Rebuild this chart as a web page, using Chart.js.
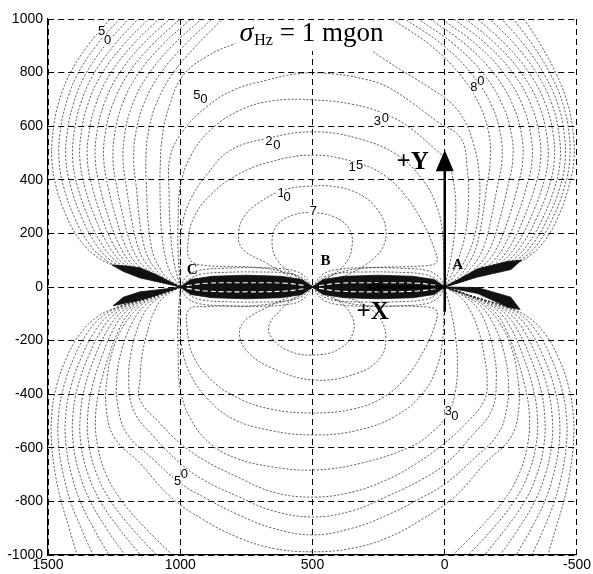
<!DOCTYPE html>
<html><head><meta charset="utf-8">
<script src="https://cdn.jsdelivr.net/npm/chart.js@4.4.0/dist/chart.umd.min.js"></script>
<style>html,body{margin:0;padding:0;background:#fff}</style>
</head><body>
<canvas id="c" width="593" height="574"></canvas>
<script>
// ---------- axis ticks ----------
const xTickValues = [1500, 1000, 500, 0, -500];
const yTickValues = [-1000, -800, -600, -400, -200, 0, 200, 400, 600, 800, 1000];

// ---------- contour lines: flat [x,y, x,y, ...] ----------
// upper half, central nested contours
const c7U  = [500,0, 571,45, 634,101, 653,169, 634,231, 571,269, 497,277, 419,262, 362,219, 350,157, 375,88, 444,32, 500,0];
const c10U = [500,0, 571,32, 672,88, 766,144, 779,206, 754,269, 697,318, 609,362, 497,377, 394,371, 306,337, 249,281, 223,219, 230,157, 268,107, 356,51, 500,0];
const c15U = [500,0, 570,45, 700,72, 900,80, 962,100, 970,170, 950,256, 886,343, 785,418, 659,467, 497,492, 344,467, 230,418, 141,331, 78,231, 40,144, 30,95, 66,80, 330,68, 440,38, 500,0];
const c20U = [1000,0, 1000,120, 994,225, 962,325, 899,420, 811,510, 659,557, 497,579, 331,555, 179,492, 78,393, 28,294, 9,206, 3,100, 0,0];
const c30U = [1000,0, 1008,120, 1008,250, 1000,374, 962,486, 886,586, 773,660, 648,695, 497,698, 340,680, 217,642, 129,592, 40,517, -10,467, -35,380, -42,280, -35,180, -20,90, 0,0];
const c50U = [1000,0, 1025,100, 1038,220, 1042,340, 1038,486, 987,586, 899,673, 798,735, 672,772, 545,797, 420,795, 300,775, 217,747, 129,691, 28,617, -61,555, -85,440, -90,325, -78,200, -50,100, -20,35, 0,0];
const c80U = [1000,0, 1040,60, 1060,130, 1072,220, 1076,325, 1076,440, 1068,560, 1040,680, 989,790, 900,860, 800,905, 680,935, 550,950, 420,945, 320,910, 230,850, 154,803, 53,741, -20,690, -75,620, -110,530, -128,440, -132,325, -115,200, -80,105, -40,45, 0,0];
// upper-left fan from C
const L1  = [1000,0, 1114,38, 1240,76, 1316,113, 1379,175, 1429,262, 1468,370, 1485,470, 1482,570, 1462,680, 1420,790, 1350,900, 1265,1000];
const L2  = [1000,0, 1110,36, 1225,72, 1295,110, 1352,172, 1400,260, 1440,370, 1458,470, 1455,570, 1433,680, 1390,790, 1318,900, 1230,1000];
const L3  = [1000,0, 1106,35, 1210,70, 1274,108, 1326,170, 1372,258, 1413,370, 1432,470, 1428,570, 1405,680, 1360,790, 1285,900, 1195,1000];
const L4  = [1000,0, 1102,34, 1195,68, 1254,106, 1302,168, 1346,256, 1387,370, 1406,470, 1402,570, 1378,680, 1330,790, 1252,900, 1160,1000];
const L5  = [1000,0, 1098,33, 1180,66, 1234,104, 1278,166, 1320,254, 1360,370, 1379,470, 1375,570, 1350,680, 1300,790, 1218,900, 1120,1000];
const L6  = [1000,0, 1094,32, 1166,64, 1215,102, 1256,164, 1294,252, 1332,370, 1351,470, 1346,570, 1320,680, 1268,790, 1183,900, 1080,1000];
const L7  = [1000,0, 1090,32, 1152,63, 1196,100, 1233,162, 1268,250, 1303,370, 1321,470, 1316,570, 1289,680, 1235,790, 1147,900, 1040,1000];
const L8  = [1000,0, 1085,32, 1138,63, 1177,100, 1210,160, 1240,248, 1272,370, 1289,470, 1284,570, 1256,680, 1200,790, 1110,900, 1000,1000];
const L9  = [1000,0, 1080,33, 1124,64, 1158,100, 1187,160, 1212,246, 1239,370, 1254,470, 1248,570, 1220,680, 1163,790, 1071,900, 960,1000];
const L10 = [1000,0, 1074,35, 1110,66, 1139,102, 1163,160, 1183,246, 1203,370, 1216,470, 1210,570, 1181,680, 1123,790, 1030,900, 920,1000];
const L11 = [1000,0, 1067,38, 1096,70, 1120,106, 1139,162, 1154,248, 1166,370, 1176,470, 1169,570, 1139,680, 1080,790, 986,900, 880,1000];
const L12 = [1000,0, 1058,42, 1081,78, 1099,112, 1112,166, 1122,250, 1127,350, 1130,470, 1122,570, 1092,680, 1033,790, 940,900, 840,1000];
// upper-right fan from A
const R1  = [0,0, -114,38, -240,76, -316,113, -379,175, -429,262, -468,370, -488,470, -486,570, -466,680, -424,790, -365,900, -300,1000];
const R2  = [0,0, -110,36, -225,72, -300,110, -360,172, -410,260, -452,370, -472,470, -470,570, -448,680, -402,790, -335,900, -260,1000];
const R3  = [0,0, -106,35, -210,70, -283,108, -340,170, -390,258, -435,370, -455,470, -452,570, -428,680, -378,790, -303,900, -215,1000];
const R4  = [0,0, -102,34, -196,68, -265,106, -320,168, -370,256, -415,370, -436,470, -432,570, -406,680, -352,790, -270,900, -170,1000];
const R5  = [0,0, -98,33, -182,66, -246,104, -298,166, -346,254, -393,370, -414,470, -410,570, -382,680, -325,790, -235,900, -125,1000];
const R6  = [0,0, -94,32, -168,64, -227,102, -276,164, -322,252, -368,370, -390,470, -385,570, -356,680, -296,790, -200,900, -80,1000];
const R7  = [0,0, -90,32, -154,63, -207,100, -253,162, -296,250, -340,370, -362,470, -357,570, -326,680, -264,790, -164,900, -35,1000];
const R8  = [0,0, -85,32, -140,63, -187,100, -229,160, -268,248, -308,370, -330,470, -325,570, -293,680, -229,790, -125,900, 10,1000];
const R9  = [0,0, -80,33, -126,64, -167,100, -204,160, -238,246, -274,370, -295,470, -290,570, -257,680, -191,790, -85,900, 55,1000];
const R10 = [0,0, -74,35, -112,66, -146,102, -178,160, -206,246, -237,370, -257,470, -252,570, -218,680, -150,790, -42,900, 100,1000];
const R11 = [0,0, -67,38, -98,70, -126,106, -152,162, -174,248, -198,370, -216,470, -211,570, -176,680, -106,790, 4,900, 150,1000];
const R12 = [0,0, -58,42, -83,78, -104,112, -124,166, -141,250, -158,370, -172,470, -167,570, -131,680, -60,790, 52,900, 200,1000];

// lower half, central nested contours
const c7L  = [500,0, 406,-49, 350,-111, 350,-179, 406,-235, 497,-254, 583,-241, 647,-198, 666,-148, 621,-86, 560,-35, 500,0];
const c10L = [500,0, 571,-30, 680,-80, 760,-130, 776,-180, 747,-240, 659,-300, 497,-347, 331,-322, 242,-262, 223,-190, 240,-125, 290,-75, 380,-35, 500,0];
const c15L = [500,0, 570,-42, 700,-68, 900,-73, 968,-85, 972,-170, 952,-255, 890,-340, 790,-410, 660,-455, 497,-470, 344,-455, 230,-410, 140,-330, 78,-235, 40,-150, 30,-90, 66,-75, 330,-66, 440,-36, 500,0];
const c20L = [1000,0, 1000,-120, 994,-225, 962,-325, 899,-415, 805,-490, 660,-535, 497,-552, 331,-535, 179,-478, 78,-390, 28,-294, 9,-206, 3,-100, 0,0];
const c30L = [1000,0, 1008,-120, 1008,-250, 1000,-380, 962,-490, 886,-585, 785,-640, 659,-670, 497,-683, 318,-658, 129,-596, 40,-535, -14,-470, -40,-390, -48,-290, -40,-180, -22,-85, 0,0];
const b784 = [1000,0, 1065,-40, 1100,-95, 1125,-170, 1145,-260, 1152,-340, 1152,-422, 1076,-509, 1000,-583, 912,-645, 785,-708, 650,-765, 500,-784, 350,-765, 220,-720, 110,-660, 10,-590, -80,-509, -150,-422, -160,-340, -150,-260, -130,-170, -100,-95, -62,-40, 0,0];
const b858 = [1000,0, 1075,-36, 1125,-80, 1160,-150, 1185,-240, 1195,-340, 1177,-459, 1101,-558, 1000,-658, 912,-720, 785,-780, 650,-835, 500,-858, 350,-835, 215,-780, 90,-720, -5,-658, -100,-558, -178,-459, -195,-340, -185,-240, -160,-150, -125,-80, -75,-36, 0,0];
const b925 = [1000,0, 1080,-34, 1140,-75, 1185,-140, 1220,-230, 1240,-340, 1235,-450, 1200,-550, 1100,-645, 1000,-732, 900,-790, 780,-850, 650,-900, 500,-925, 350,-900, 215,-850, 95,-790, -5,-732, -105,-645, -200,-550, -235,-450, -240,-340, -220,-230, -185,-140, -140,-75, -80,-34, 0,0];
const b988 = [1000,0, 1085,-32, 1150,-70, 1205,-130, 1250,-220, 1275,-330, 1280,-450, 1250,-560, 1152,-658, 1038,-782, 912,-869, 780,-935, 650,-975, 500,-988, 350,-975, 215,-935, 90,-869, -38,-782, -152,-658, -250,-560, -280,-450, -275,-330, -250,-220, -205,-130, -150,-70, -85,-32, 0,0];
// lower-left fan from C
const LL1 = [1000,0, 1114,-38, 1240,-76, 1316,-113, 1379,-175, 1429,-262, 1468,-370, 1486,-480, 1486,-590, 1472,-700, 1450,-800, 1420,-900, 1390,-1000];
const LL2 = [1000,0, 1110,-36, 1225,-72, 1295,-110, 1352,-172, 1400,-260, 1440,-370, 1460,-480, 1460,-590, 1442,-700, 1415,-800, 1375,-900, 1330,-1000];
const LL3 = [1000,0, 1106,-35, 1210,-70, 1274,-108, 1326,-170, 1372,-258, 1413,-370, 1433,-480, 1432,-590, 1411,-700, 1378,-800, 1328,-900, 1270,-1000];
const LL4 = [1000,0, 1102,-34, 1195,-68, 1254,-106, 1302,-168, 1346,-256, 1387,-370, 1406,-480, 1404,-590, 1380,-700, 1340,-800, 1280,-900, 1210,-1000];
const LL5 = [1000,0, 1098,-33, 1180,-66, 1234,-104, 1278,-166, 1320,-254, 1360,-370, 1378,-480, 1375,-590, 1348,-700, 1302,-800, 1232,-900, 1150,-1000];
const LL6 = [1000,0, 1094,-32, 1166,-64, 1215,-102, 1256,-164, 1294,-252, 1332,-370, 1350,-480, 1345,-590, 1315,-700, 1262,-800, 1183,-900, 1090,-1000];
const LL7 = [1000,0, 1090,-32, 1152,-63, 1196,-100, 1233,-162, 1268,-250, 1303,-370, 1320,-480, 1313,-590, 1280,-700, 1220,-800, 1132,-900, 1030,-1000];
// lower-right fan from A
const RL1 = [0,0, -114,-38, -240,-76, -316,-113, -379,-175, -429,-262, -468,-370, -486,-480, -486,-590, -472,-700, -450,-800, -420,-900, -390,-1000];
const RL2 = [0,0, -110,-36, -225,-72, -295,-110, -352,-172, -400,-260, -440,-370, -460,-480, -460,-590, -442,-700, -415,-800, -375,-900, -330,-1000];
const RL3 = [0,0, -106,-35, -210,-70, -274,-108, -326,-170, -372,-258, -413,-370, -433,-480, -432,-590, -411,-700, -378,-800, -328,-900, -270,-1000];
const RL4 = [0,0, -102,-34, -195,-68, -254,-106, -302,-168, -346,-256, -387,-370, -406,-480, -404,-590, -380,-700, -340,-800, -280,-900, -210,-1000];
const RL5 = [0,0, -98,-33, -180,-66, -234,-104, -278,-166, -320,-254, -360,-370, -378,-480, -375,-590, -348,-700, -302,-800, -232,-900, -150,-1000];
const RL6 = [0,0, -94,-32, -166,-64, -215,-102, -256,-164, -294,-252, -332,-370, -350,-480, -345,-590, -315,-700, -262,-800, -183,-900, -90,-1000];
const RL7 = [0,0, -90,-32, -152,-63, -196,-100, -233,-162, -268,-250, -303,-370, -320,-480, -313,-590, -280,-700, -220,-800, -132,-900, -30,-1000];

// near-axis lens lines between C-B and B-A
const lensCB55  = [1000,0, 965,30, 920,48, 820,55, 700,56, 600,52, 545,38, 500,0];
const lensCB70  = [1000,0, 975,40, 930,62, 830,70, 700,72, 600,66, 540,48, 500,0];
const lensBA55  = [500,0, 455,38, 400,52, 300,56, 180,55, 80,48, 35,30, 0,0];
const lensBA70  = [500,0, 460,48, 400,66, 300,72, 170,70, 70,62, 25,40, 0,0];
const lensCBm55 = [1000,0, 965,-30, 920,-48, 820,-55, 700,-56, 600,-52, 545,-38, 500,0];
const lensCBm70 = [1000,0, 975,-40, 930,-62, 830,-70, 700,-72, 600,-66, 540,-48, 500,0];
const lensBAm55 = [500,0, 455,-38, 400,-52, 300,-56, 180,-55, 80,-48, 35,-30, 0,0];
const lensBAm70 = [500,0, 460,-48, 400,-66, 300,-72, 170,-70, 70,-62, 25,-40, 0,0];
// dense (black) regions
const bandCB  = [1000,0, 960,28, 880,40, 750,44, 620,40, 540,28, 500,0, 540,-28, 620,-40, 750,-44, 880,-40, 960,-28, 1000,0];
const bandBA  = [500,0, 460,28, 380,40, 250,44, 120,40, 40,28, 0,0, 40,-28, 120,-40, 250,-44, 380,-40, 460,-28, 500,0];
const wedgeCU = [1000,0, 1088,20, 1152,34, 1215,58, 1258,82, 1200,78, 1152,72, 1088,45, 1000,0];
const wedgeCL = [1000,0, 1088,-11, 1152,-18, 1215,-38, 1254,-70, 1205,-60, 1152,-49, 1088,-30, 1000,0];
const wedgeAU = [0,0, -124,37, -250,65, -290,100, -240,96, -124,68, 0,0];
const wedgeAL = [0,0, -124,-2, -250,-38, -285,-84, -240,-76, -124,-24, 0,0];
// white streaks inside the dense band
const hatchCB1 = [975,5, 900,14, 750,16, 600,14, 525,5];
const hatchCB2 = [975,-5, 900,-15, 750,-18, 600,-15, 525,-5];
const hatchBA1 = [475,5, 400,14, 250,16, 100,14, 25,5];
const hatchBA2 = [475,-5, 400,-15, 250,-18, 100,-15, 25,-5];

// contour level labels: text, anchor (data), per-character offset in px
const levelLabels = [
  {t:'50', x:1297, y:952,  dx:6,   dy:9},
  {t:'50', x:937,  y:716,  dx:7,   dy:4},
  {t:'20', x:665,  y:542,  dx:8,   dy:3.5},
  {t:'10', x:619,  y:350,  dx:6,   dy:4},
  {t:'7',  x:497,  y:281,  dx:0,   dy:0},
  {t:'15', x:350,  y:445,  dx:7.5, dy:-2.7},
  {t:'30', x:255,  y:619,  dx:8,   dy:-3},
  {t:'80', x:-110, y:745,  dx:7,   dy:-6},
  {t:'30', x:-14,  y:-465, dx:6.5, dy:5},
  {t:'50', x:1010, y:-726, dx:6.7, dy:-6.7}
];
// station labels
const stations = [
  {t:'A', x:-49, y:82},
  {t:'B', x:451, y:97},
  {t:'C', x:955, y:63}
];

// ---------- build datasets ----------
const toPts = a => { const r = []; for (let i = 0; i < a.length; i += 2) r.push({x: a[i], y: a[i + 1]}); return r; };
const contours = [c7U,c10U,c15U,c20U,c30U,c50U,c80U,L1,L2,L3,L4,L5,L6,L7,L8,L9,L10,L11,L12,
  R1,R2,R3,R4,R5,R6,R7,R8,R9,R10,R11,R12,
  c7L,c10L,c15L,c20L,c30L,b784,b858,b925,b988,LL1,LL2,LL3,LL4,LL5,LL6,LL7,RL1,RL2,RL3,RL4,RL5,RL6,RL7,
  lensCB55,lensCB70,lensBA55,lensBA70,lensCBm55,lensCBm70,lensBAm55,lensBAm70];
const fills = [bandCB, bandBA, wedgeCU, wedgeCL, wedgeAU, wedgeAL];
const hatches = [hatchCB1, hatchCB2, hatchBA1, hatchBA2];

const datasets = [];
hatches.forEach(a => datasets.push({data: toPts(a), borderColor:'#fff', borderWidth:1.1, borderDash:[5,3],
  pointRadius:0, tension:0.4, fill:false, order:0}));
fills.forEach(a => datasets.push({data: toPts(a), borderColor:'#111', backgroundColor:'#111', borderWidth:0.8,
  pointRadius:0, tension:0, fill:'shape', order:1}));
contours.forEach(a => datasets.push({data: toPts(a), borderColor:'rgba(25,25,25,0.85)', borderWidth:0.8,
  borderDash:[2.2,1.6], pointRadius:0, tension:0.4, fill:false, order:2}));

// ---------- annotation plugin ----------
const annot = {
  id: 'annot',
  afterDraw(chart) {
    const ctx = chart.ctx, xs = chart.scales.x, ys = chart.scales.y;
    const px = v => xs.getPixelForValue(v), py = v => ys.getPixelForValue(v);
    ctx.save();
    // level labels
    ctx.font = '13px "Liberation Sans", Arial, sans-serif';
    ctx.textAlign = 'center'; ctx.textBaseline = 'middle';
    levelLabels.forEach(l => {
      const x0 = px(l.x), y0 = py(l.y);
      [...l.t].forEach((ch, i) => {
        const cx = x0 + i * l.dx, cy = y0 + i * l.dy;
        ctx.fillStyle = '#fff'; ctx.fillRect(cx - 4, cy - 6, 8, 12);
        ctx.fillStyle = '#000'; ctx.fillText(ch, cx, cy);
      });
    });
    // title with white backing
    const tx = px(500) - 73, tb = py(1000) + 22;
    ctx.fillStyle = '#fff'; ctx.fillRect(tx - 4, py(1000) + 1, 150, 31);
    ctx.fillStyle = '#000'; ctx.textAlign = 'left'; ctx.textBaseline = 'alphabetic';
    ctx.font = 'italic 28px "Liberation Serif", "Times New Roman", serif';
    ctx.fillText('σ', tx, tb);
    let w = ctx.measureText('σ').width;
    ctx.font = '16px "Liberation Serif", "Times New Roman", serif';
    ctx.fillText('Hz', tx + w + 1, tb + 4);
    w += ctx.measureText('Hz').width + 1;
    ctx.font = '27px "Liberation Serif", "Times New Roman", serif';
    ctx.fillText(' = 1 mgon', tx + w, tb);
    // +Y arrow
    const ax = px(0);
    ctx.strokeStyle = '#000'; ctx.lineWidth = 2.5;
    ctx.beginPath(); ctx.moveTo(ax, py(-92)); ctx.lineTo(ax, py(440)); ctx.stroke();
    ctx.beginPath(); ctx.moveTo(ax, py(511)); ctx.lineTo(ax - 9, py(432)); ctx.lineTo(ax + 9, py(432)); ctx.closePath();
    ctx.fillStyle = '#000'; ctx.fill();
    // +X arrow
    const ay = py(0);
    ctx.lineWidth = 3;
    ctx.beginPath(); ctx.moveTo(ax, ay); ctx.lineTo(px(250), ay); ctx.stroke();
    ctx.beginPath(); ctx.moveTo(px(305), ay); ctx.lineTo(px(245), ay - 5); ctx.lineTo(px(245), ay + 5); ctx.closePath(); ctx.fill();
    // axis-arrow labels
    ctx.textAlign = 'center'; ctx.textBaseline = 'middle';
    ctx.font = 'bold 25px "Liberation Serif", "Times New Roman", serif';
    ctx.fillText('+Y', px(121), py(466));
    ctx.fillText('+X', px(273), py(-97));
    ctx.font = 'bold 15px "Liberation Serif", "Times New Roman", serif';
    stations.forEach(s => ctx.fillText(s.t, px(s.x), py(s.y)));
    ctx.restore();
  }
};

const tickFont = {family: '"Liberation Sans", Arial, sans-serif', size: 14};
new Chart(document.getElementById('c'), {
  type: 'line',
  data: {datasets},
  options: {
    responsive: false, animation: false, events: [],
    layout: {padding: {left: 0, right: 16, top: 19, bottom: 0}},
    plugins: {legend: {display: false}, tooltip: {enabled: false}},
    scales: {
      x: {
        type: 'linear', reverse: true, min: -500, max: 1500,
        afterBuildTicks: s => { s.ticks = xTickValues.map(v => ({value: v})); },
        afterFit: s => { s.height = 19; },
        ticks: {color: '#000', font: tickFont, padding: 2, callback: v => String(v), maxRotation: 0, autoSkip: false},
        grid: {color: '#000', lineWidth: 1, drawTicks: false},
        border: {display: true, color: '#000', width: 1.2, dash: [6, 4]}
      },
      y: {
        type: 'linear', min: -1000, max: 1000,
        afterBuildTicks: s => { s.ticks = yTickValues.map(v => ({value: v})); },
        afterFit: s => { s.width = 48; },
        ticks: {color: '#000', font: tickFont, padding: 5, callback: v => String(v), autoSkip: false},
        grid: {color: '#000', lineWidth: 1, drawTicks: false},
        border: {display: true, color: '#000', width: 1.2, dash: [6, 4]}
      }
    }
  },
  plugins: [annot]
});
</script>
</body></html>
